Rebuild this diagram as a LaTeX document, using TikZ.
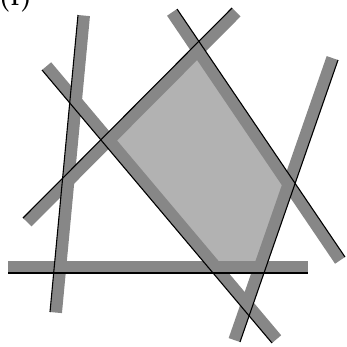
\documentclass[tikz,border=0pt]{standalone}
\usetikzlibrary{calc}
\tikzset{
  band/.style={fill=black!47},
  edge/.style={draw=black, line width=1.1pt},
  region/.style={fill=black!30},
}
\begin{document}
\begin{tikzpicture}[x=1pt,y=-1pt]
\useasboundingbox (0,0) rectangle (347,346);
% line end points
\coordinate (a1) at (78,15);   \coordinate (b1) at (50,312);
\coordinate (a2) at (42,70);   \coordinate (b2) at (272,343);
\coordinate (a3) at (23,218);  \coordinate (b3) at (232,8);
\coordinate (a4) at (177,9);   \coordinate (b4) at (345,257);
\coordinate (a5) at (338,60);  \coordinate (b5) at (240,342);
\coordinate (a6) at (8,273);   \coordinate (b6) at (308,273);
% feasible region
\fill[region] (intersection of a3--b3 and a4--b4)
  -- (intersection of a4--b4 and a5--b5)
  -- (intersection of a5--b5 and a6--b6)
  -- (intersection of a6--b6 and a2--b2)
  -- (intersection of a2--b2 and a3--b3) -- cycle;
% half-plane bands
\fill[band] (a1) -- (b1) -- ($(b1)!12pt!-90:(a1)$) -- ($(a1)!12pt!90:(b1)$) -- cycle;
\fill[band] (a2) -- (b2) -- ($(b2)!12pt!-90:(a2)$) -- ($(a2)!12pt!90:(b2)$) -- cycle;
\fill[band] (a3) -- (b3) -- ($(b3)!12pt!90:(a3)$) -- ($(a3)!12pt!-90:(b3)$) -- cycle;
\fill[band] (a4) -- (b4) -- ($(b4)!12pt!90:(a4)$) -- ($(a4)!12pt!-90:(b4)$) -- cycle;
\fill[band] (a5) -- (b5) -- ($(b5)!12pt!90:(a5)$) -- ($(a5)!12pt!-90:(b5)$) -- cycle;
\fill[band] (a6) -- (b6) -- ($(b6)!12pt!-90:(a6)$) -- ($(a6)!12pt!90:(b6)$) -- cycle;
% lines
\draw[edge] (a1) -- (b1);
\draw[edge] (a2) -- (b2);
\draw[edge] (a3) -- (b3);
\draw[edge] (a4) -- (b4);
\draw[edge] (a5) -- (b5);
\draw[edge] (a6) -- (b6);
% label (cut off at top)
\node[anchor=base west, inner sep=0pt, font=\fontsize{26}{30}\selectfont\bfseries] (lbl) at (-1,5) {(f)};
\end{tikzpicture}
\end{document}
